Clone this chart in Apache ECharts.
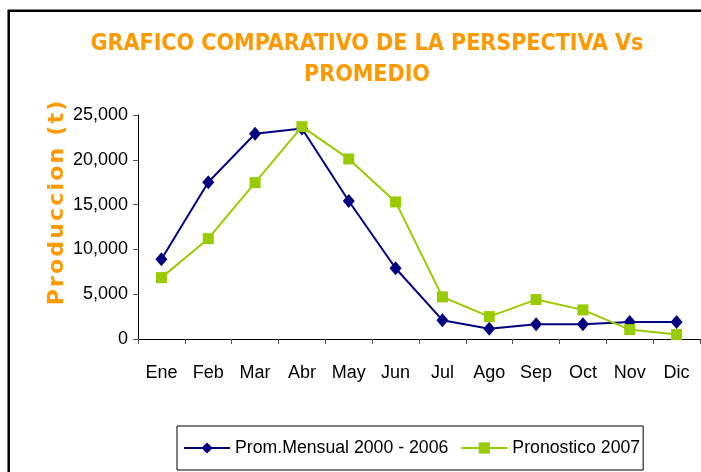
<!DOCTYPE html>
<html>
<head>
<meta charset="utf-8">
<script src="https://cdn.jsdelivr.net/npm/echarts@6/dist/echarts.min.js"></script>
<style>
  html, body { margin: 0; padding: 0; background: #fff; }
  #chart { width: 701px; height: 472px; }
</style>
</head>
<body>
<div id="chart"></div>
<script>
    var meses = ['Ene', 'Feb', 'Mar', 'Abr', 'May', 'Jun', 'Jul', 'Ago', 'Sep', 'Oct', 'Nov', 'Dic'];
    // Prom.Mensual 2000 - 2006
    var promedio = [8900, 17500, 22900, 23500, 15400, 7900, 2100, 1150, 1650, 1650, 1900, 1900];
    // Pronostico 2007
    var pronostico = [6850, 11200, 17450, 23700, 20100, 15300, 4700, 2500, 4400, 3250, 1050, 500];

    var fuente = '"Liberation Sans", Arial, sans-serif';
    var naranja = '#FF9900';
    // nombre del eje con un poco de espacio entre letras
    var nombreEje = 'Produccion (t)'.split('').join('\u200A');

    var myChart = echarts.init(document.getElementById('chart'));
    var option = {
        animation: false,
        title: {
            text: 'GRAFICO COMPARATIVO DE LA PERSPECTIVA Vs\nPROMEDIO',
            left: 362,
            textAlign: 'center',
            top: 24,
            textStyle: {
                color: naranja,
                fontFamily: '"DejaVu Sans Condensed", "DejaVu Sans", sans-serif',
                fontWeight: 'bold',
                fontSize: 23,
                lineHeight: 31
            }
        },
        graphic: [{
            type: 'polyline',
            shape: { points: [[8.7, 472], [8.7, 10.7], [701, 10.7]] },
            style: { stroke: '#000', lineWidth: 2.5, fill: null }
        }],
        legend: {
            left: 177,
            top: 426,
            padding: [13, 3, 13, 6],
            borderColor: '#000',
            borderWidth: 1,
            itemWidth: 46,
            itemHeight: 14,
            itemGap: 12,
            textStyle: {
                fontFamily: fuente,
                fontSize: 17.7,
                color: '#000'
            }
        },
        grid: {
            left: 138,
            right: 1,
            top: 115,
            bottom: 133,
            containLabel: false
        },
        xAxis: {
            type: 'category',
            data: meses,
            boundaryGap: true,
            axisLine: { lineStyle: { color: '#000', width: 1 } },
            axisTick: { show: true, length: 5, lineStyle: { color: '#555' } },
            axisLabel: {
                interval: 0,
                color: '#000',
                fontFamily: fuente,
                fontSize: 18,
                margin: 25
            },
            splitLine: { show: false }
        },
        yAxis: {
            type: 'value',
            min: 0,
            max: 25000,
            interval: 5000,
            name: nombreEje,
            nameLocation: 'middle',
            nameGap: 70,
            nameMoveOverlap: false,
            nameTextStyle: {
                color: naranja,
                fontFamily: '"DejaVu Sans", sans-serif',
                fontWeight: 'bold',
                fontSize: 22,
                padding: [0, 0, 0, 48]
            },
            axisLine: { show: true, lineStyle: { color: '#000', width: 1 } },
            axisTick: { show: true, length: 5, lineStyle: { color: '#555' } },
            axisLabel: {
                color: '#000',
                fontFamily: fuente,
                fontSize: 18,
                margin: 10,
                formatter: function (v) {
                    return v.toString().replace(/\B(?=(\d{3})+(?!\d))/g, ',');
                }
            },
            splitLine: { show: false }
        },
        series: [
            {
                name: 'Prom.Mensual 2000 - 2006',
                type: 'line',
                data: promedio,
                symbol: 'diamond',
                symbolSize: [12, 14],
                itemStyle: { color: '#000080' },
                lineStyle: { color: '#000080', width: 2 }
            },
            {
                name: 'Pronostico 2007',
                type: 'line',
                data: pronostico,
                symbol: 'rect',
                symbolSize: 11,
                itemStyle: { color: '#99CC00' },
                lineStyle: { color: '#99CC00', width: 2 }
            }
        ]
    };
    myChart.setOption(option);
</script>
</body>
</html>
